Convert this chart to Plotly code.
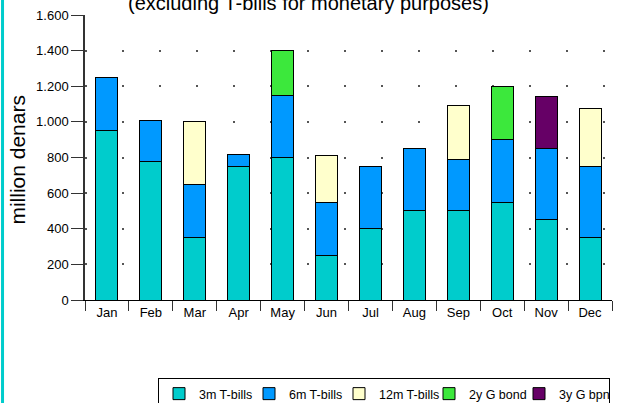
import plotly.graph_objects as go

months = ['Jan', 'Feb', 'Mar', 'Apr', 'May', 'Jun', 'Jul', 'Aug', 'Sep', 'Oct', 'Nov', 'Dec']
t_bills_3m = [950, 780, 350, 750, 800, 250, 400, 500, 500, 550, 450, 350]
t_bills_6m = [300, 230, 300, 65, 350, 300, 350, 350, 290, 350, 400, 400]
t_bills_12m = [0, 0, 350, 0, 0, 260, 0, 0, 300, 0, 0, 325]
bond_2y = [0, 0, 0, 0, 250, 0, 0, 0, 0, 300, 0, 0]
bond_3y = [0, 0, 0, 0, 0, 0, 0, 0, 0, 0, 290, 0]

series = [
    ('3m T-bills', t_bills_3m, '#00CCCC'),
    ('6m T-bills', t_bills_6m, '#0099FF'),
    ('12m T-bills', t_bills_12m, '#FFFFCC'),
    ('2y G bond', bond_2y, '#3CE83C'),
    ('3y G bpnd', bond_3y, '#660066'),
]

font_family = 'Liberation Sans, Arial, sans-serif'

fig = go.Figure()
for name, vals, color in series:
    fig.add_trace(go.Bar(
        x=months,
        y=vals,
        name=name,
        width=0.5,
        marker=dict(color=color, line=dict(color='black', width=1)),
    ))

fig.update_xaxes(
    showline=True,
    linecolor='black',
    linewidth=1,
    ticks='outside',
    tickson='boundaries',
    ticklen=10,
    tickcolor='#333333',
    showgrid=False,
    tickfont=dict(size=13, color='black'),
)

fig.update_yaxes(
    range=[0, 1600],
    tickmode='linear',
    tick0=0,
    dtick=200,
    tickformat=',',
    showline=True,
    linecolor='#333333',
    linewidth=1.5,
    ticks='outside',
    ticklen=12,
    tickcolor='#333333',
    showgrid=True,
    gridcolor='#555555',
    gridwidth=1.5,
    griddash='2px,35px',
    zeroline=False,
    tickfont=dict(size=13, color='black'),
)

fig.update_layout(
    width=626,
    height=403,
    barmode='stack',
    separators=',.',
    paper_bgcolor='white',
    plot_bgcolor='white',
    margin=dict(l=85, r=14, t=15, b=103, autoexpand=False),
    font=dict(family=font_family, color='black'),
    legend=dict(
        orientation='h',
        xref='container',
        yref='container',
        x=0.2524,
        y=0.062,
        xanchor='left',
        yanchor='top',
        bordercolor='black',
        borderwidth=1,
        font=dict(size=12.5),
        traceorder='normal',
        itemwidth=30,
        entrywidthmode='pixels',
        entrywidth=45,
    ),
    annotations=[
        dict(text='(excluding T-bills for monetary purposes)', xref='paper', yref='paper',
             x=0.425, y=1.042, xanchor='center', yanchor='middle', showarrow=False,
             font=dict(size=20)),
        dict(text='million denars', xref='paper', yref='paper',
             x=-0.128, y=0.491, xanchor='center', yanchor='middle', showarrow=False,
             textangle=-90, font=dict(size=21)),
    ],
    shapes=[
        dict(type='line', xref='paper', yref='paper', x0=-0.1565, x1=-0.1565, y0=-0.37, y1=1.06,
             line=dict(color='#00CCCC', width=3)),
    ],
)

# page body has an 8px default margin, drop it so the figure sits at the corner
fig.write_html("out.html", config={'displayModeBar': False},
               post_script="document.body.style.margin='0';")
